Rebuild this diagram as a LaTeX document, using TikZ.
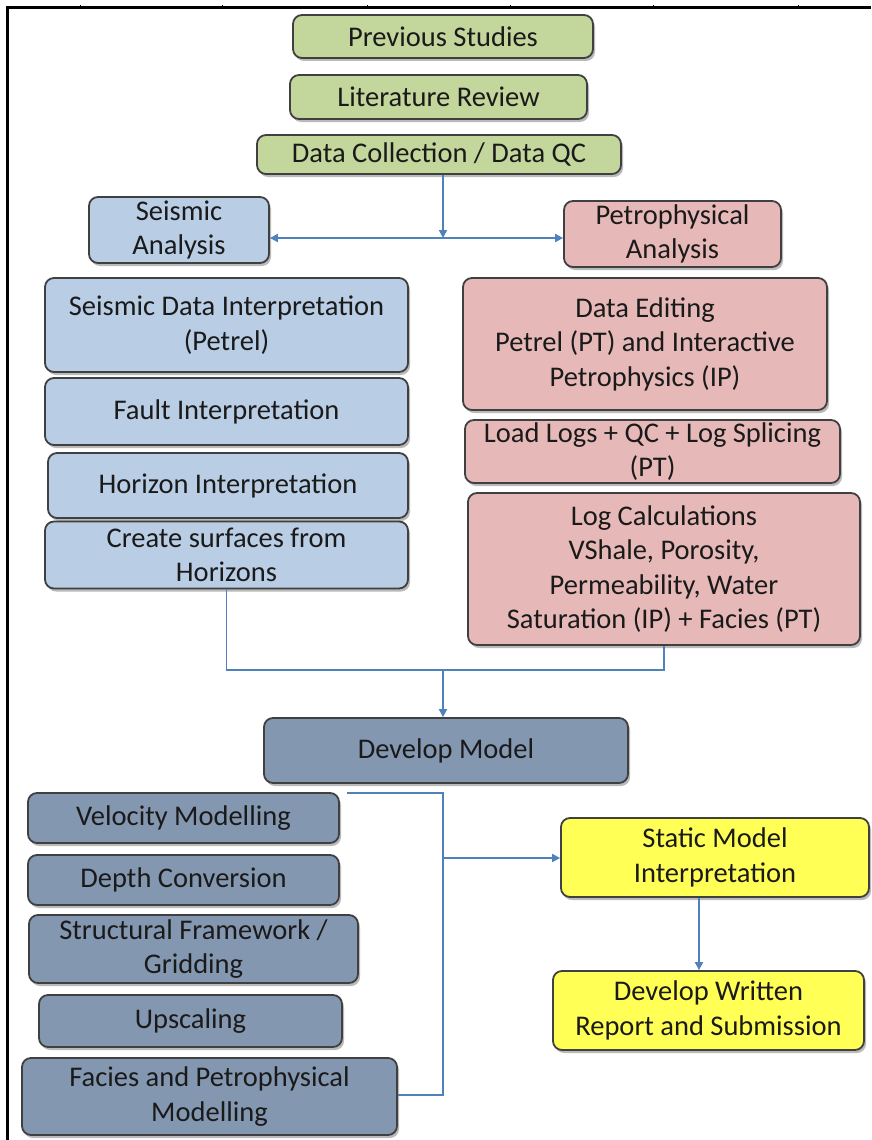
\documentclass[tikz,border=0pt]{standalone}
\usepackage{fontspec}
\setmainfont{Carlito}
\usetikzlibrary{arrows.meta,shadows,calc}
\definecolor{cgreen}{HTML}{C3D69B}
\definecolor{cblue}{HTML}{B9CDE5}
\definecolor{cpink}{HTML}{E6B9B8}
\definecolor{cslate}{HTML}{8497B0}
\definecolor{cyellow}{HTML}{FFFF55}
\definecolor{cline}{HTML}{4F81BD}
\definecolor{ctext}{HTML}{1A1A1A}
\definecolor{cborder}{HTML}{404040}
\tikzset{
  box/.style={draw=cborder, line width=1.8pt, rounded corners=9pt, align=center,
    inner sep=0pt, text=ctext,
    font=\fontsize{28.5}{34.5}\selectfont,
    drop shadow={shadow xshift=2pt, shadow yshift=-3pt, fill=black!45, opacity=0.6}},
  gbox/.style={box, fill=cgreen},
  bbox/.style={box, fill=cblue},
  pbox/.style={box, fill=cpink},
  sbox/.style={box, fill=cslate},
  ybox/.style={box, fill=cyellow},
  conn/.style={draw=cline, line width=1.8pt},
  arr/.style={conn, -{Triangle[length=8pt,width=8pt]}},
  frame/.style={line width=3pt, draw=black},
  tick/.style={line width=1pt, draw=black}
}
\begin{document}
\begin{tikzpicture}[x=1pt,y=-1pt]
\useasboundingbox (0,0) rectangle (871,1140);
\fill[white] (0,0) rectangle (871,1140);
% frame
\draw[frame] (7,1140) -- (7,8) -- (871,8);
\foreach \tx in {80,222,367,510,653,798} \draw[tick] (\tx,5) -- (\tx,8);
% top boxes
\node[gbox, minimum width=300pt, minimum height=43pt] (prev) at (443,36.5) {Previous Studies};
\node[gbox, minimum width=297pt, minimum height=44pt] (lit) at (438.5,97) {Literature Review};
\node[gbox, minimum width=364pt, minimum height=39pt] (data) at (439,154.5) {Data Collection / Data QC};
\node[bbox, minimum width=180pt, minimum height=66pt] (seis) at (179,230) {Seismic\\Analysis};
\node[pbox, minimum width=217pt, minimum height=66pt] (petro) at (672.5,234) {Petrophysical\\Analysis};
% seismic column
\node[bbox, minimum width=363pt, minimum height=94pt] (sdi) at (226.5,325) {Seismic Data Interpretation\\(Petrel)};
\node[bbox, minimum width=363pt, minimum height=67pt] (fault) at (226.5,411.5) {Fault Interpretation};
\node[bbox, minimum width=360pt, minimum height=65pt] (horiz) at (228,485.5) {Horizon Interpretation};
\node[bbox, minimum width=363pt, minimum height=67pt] (surf) at (226.5,555) {Create surfaces from\\Horizons};
% petrophysical column
\node[pbox, minimum width=364pt, minimum height=132pt] (edit) at (645,344) {Data Editing\\Petrel (PT) and Interactive\\Petrophysics (IP)};
\node[pbox, minimum width=375pt, minimum height=63pt] (load) at (652.5,451.5) {Load Logs + QC + Log Splicing\\(PT)};
\node[pbox, minimum width=392pt, minimum height=152pt] (logc) at (664,569) {Log Calculations\\VShale, Porosity,\\Permeability, Water\\Saturation (IP) + Facies (PT)};
% model
\node[sbox, minimum width=364pt, minimum height=65pt] (dev) at (446,750.5) {Develop Model};
\node[sbox, minimum width=311pt, minimum height=50pt] (vel) at (183.5,818) {Velocity Modelling};
\node[sbox, minimum width=311pt, minimum height=50pt] (depth) at (183.5,880) {Depth Conversion};
\node[sbox, minimum width=329pt, minimum height=68pt] (struct) at (193.5,949) {Structural Framework /\\Gridding};
\node[sbox, minimum width=303pt, minimum height=52pt] (up) at (190.5,1021) {Upscaling};
\node[sbox, minimum width=375pt, minimum height=77pt] (fac) at (209.5,1096.5) {Facies and Petrophysical\\Modelling};
\node[ybox, minimum width=308pt, minimum height=79pt] (static) at (715,857.5) {Static Model\\Interpretation};
\node[ybox, minimum width=311pt, minimum height=79pt] (written) at (708.5,1010.5) {Develop Written\\Report and Submission};
% connectors
\coordinate (J1) at (443,238);
\coordinate (J2) at (443,670);
\coordinate (B1) at (347,793);
\coordinate (B2) at (443,793);
\coordinate (B3) at (443,1095);
\coordinate (J3) at (443,858);
\coordinate (A) at (699,0);
\draw[arr] (data.south -| J1) -- (J1);
\draw[arr] (J1) -- (J1 -| seis.east);
\draw[arr] (J1) -- (J1 -| petro.west);
\draw[conn] (surf.south) |- (J2) -| (logc.south);
\draw[arr] (J2) -- (J2 |- dev.north);
\draw[conn] (B1) -- (B2) -- (B3) -- (B3 -| fac.east);
\draw[arr] (J3) -- (J3 -| static.west);
\draw[arr] (static.south -| A) -- (written.north -| A);
\end{tikzpicture}
\end{document}
